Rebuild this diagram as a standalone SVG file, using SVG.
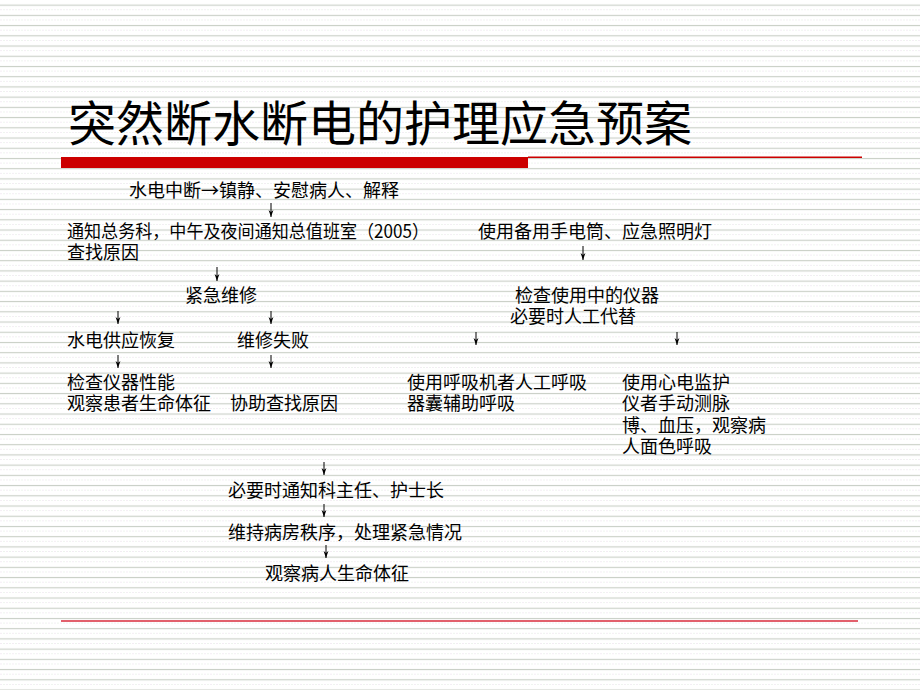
<svg xmlns="http://www.w3.org/2000/svg" width="920" height="690" viewBox="0 0 920 690">
<defs>
<pattern id="bg" patternUnits="userSpaceOnUse" x="0" y="0" width="6" height="10.222">
<rect x="0" y="0" width="6" height="10.222" fill="#ffffff"/>
<rect x="0" y="4.6" width="6" height="1.1" fill="#c9cfc6"/>
<rect x="0" y="9.8" width="2" height="0.9" fill="#e6d6e8"/>
<rect x="3" y="9.8" width="2" height="0.9" fill="#d8e8d8"/>
</pattern>
<marker id="ah" viewBox="0 0 6 7" refX="3" refY="7" markerWidth="6" markerHeight="7" markerUnits="userSpaceOnUse" orient="0">
<path d="M0.6,0 L3,7 L5.4,0 L3,2 Z" fill="#000"/>
</marker>
<style>
.t{font-family:"Noto Sans CJK SC","Noto Sans CJK TC",sans-serif;font-size:18px;fill:#000;}
.title{font-family:"Liberation Serif","Noto Sans CJK SC",serif;font-size:48px;fill:#000;}
.c line{stroke:#000;stroke-width:1;marker-end:url(#ah);}
</style>
</defs>
<rect width="920" height="690" fill="url(#bg)"/>
<g id="decor">
<rect x="61" y="157" width="467" height="11" fill="#cc0000"/>
<rect x="528" y="156.5" width="334" height="1.5" fill="#cc0000"/>
<rect x="61" y="620" width="797" height="2" fill="#e2606c"/>
</g>
<g id="title"><text class="title" x="68" y="141">突然断水断电的护理应急预案</text></g>
<g class="c" id="connectors">
<line x1="271" y1="203" x2="271" y2="217"/>
<line x1="583" y1="246" x2="583" y2="260"/>
<line x1="217" y1="267" x2="217" y2="281"/>
<line x1="118" y1="311" x2="118" y2="324"/>
<line x1="271" y1="311" x2="271" y2="324"/>
<line x1="476" y1="332" x2="476" y2="345"/>
<line x1="677" y1="332" x2="677" y2="345"/>
<line x1="118" y1="355" x2="118" y2="368"/>
<line x1="271" y1="355" x2="271" y2="368"/>
<line x1="324" y1="462" x2="324" y2="475"/>
<line x1="324" y1="504" x2="324" y2="517"/>
<line x1="326" y1="545" x2="326" y2="558"/>
</g>
<g id="n1"><text class="t" x="129" y="197">水电中断→镇静、安慰病人、解释</text></g>
<g id="n2"><text class="t" x="67" y="238" textLength="362" lengthAdjust="spacingAndGlyphs">通知总务科，中午及夜间通知总值班室（2005）</text><text class="t" x="67" y="259">查找原因</text></g>
<g id="n3"><text class="t" x="478" y="238">使用备用手电筒、应急照明灯</text></g>
<g id="n4"><text class="t" x="185" y="302">紧急维修</text></g>
<g id="n5"><text class="t" x="515" y="302">检查使用中的仪器</text><text class="t" x="510" y="323">必要时人工代替</text></g>
<g id="n6"><text class="t" x="67" y="347">水电供应恢复</text></g>
<g id="n7"><text class="t" x="237" y="347">维修失败</text></g>
<g id="n8"><text class="t" x="67" y="389">检查仪器性能</text><text class="t" x="67" y="410">观察患者生命体征</text></g>
<g id="n9"><text class="t" x="230" y="410">协助查找原因</text></g>
<g id="n10"><text class="t" x="407" y="389">使用呼吸机者人工呼吸</text><text class="t" x="407" y="410">器囊辅助呼吸</text></g>
<g id="n11"><text class="t" x="622" y="389">使用心电监护</text><text class="t" x="622" y="410">仪者手动测脉</text><text class="t" x="622" y="432">博、血压，观察病</text><text class="t" x="622" y="453">人面色呼吸</text></g>
<g id="n12"><text class="t" x="228" y="497">必要时通知科主任、护士长</text></g>
<g id="n13"><text class="t" x="228" y="539">维持病房秩序，处理紧急情况</text></g>
<g id="n14"><text class="t" x="265" y="580">观察病人生命体征</text></g>
</svg>
